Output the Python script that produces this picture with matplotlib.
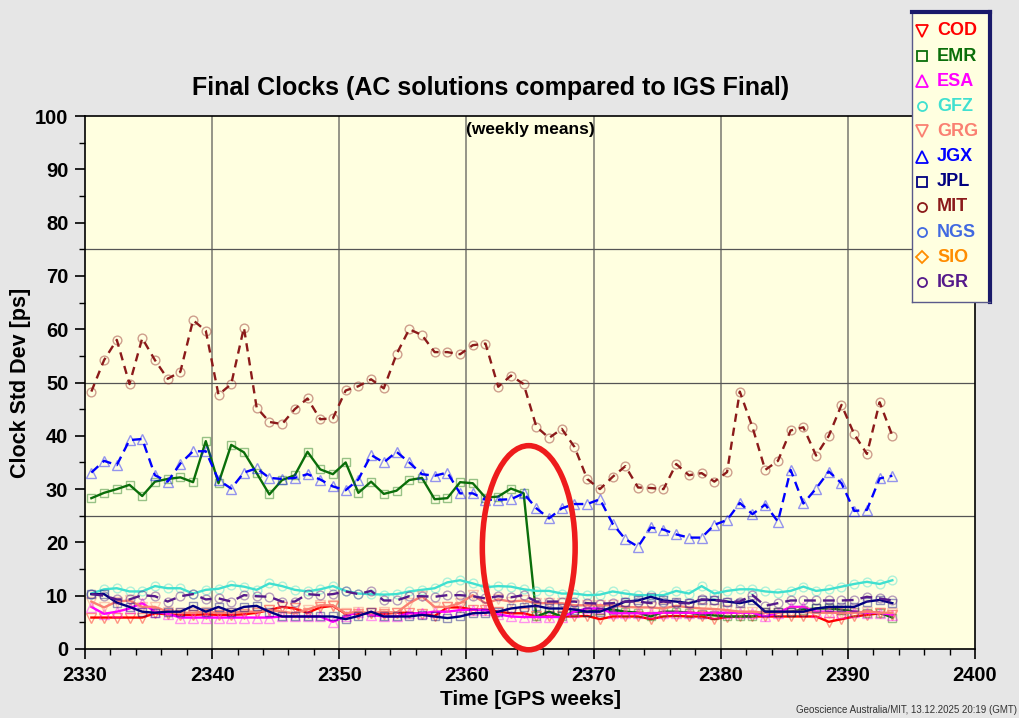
import numpy as np
import matplotlib
matplotlib.use("Agg")
import matplotlib.pyplot as plt
from matplotlib.patches import Ellipse

plt.rcParams["font.family"] = ["Liberation Sans", "DejaVu Sans"]
plt.rcParams["font.weight"] = "bold"

# GPS weeks; each weekly mean sits in the middle of its week
weeks = np.arange(2330, 2394)

cod = [5.9, 5.9, 5.9, 5.9, 5.9, 6.7, 6.5, 6.4, 6.4, 6.5, 6.4, 6.4, 6.5, 6.8, 7.3, 7.9,
       7.6, 6.8, 7.8, 8.1, 6.6, 6.6, 6.8, 6.6, 6.8, 6.8, 6.6, 6.2, 7.8, 7.8, 7.4, 7.4,
       7.0, 6.7, 6.7, 6.1, 6.1, 6.1, 6.1, 6.2, 5.6, 6.1, 6.1, 6.1, 5.6, 6.1, 6.2, 6.1,
       6.1, 5.6, 6.0, 6.1, 6.1, 6.1, 6.1, 6.1, 6.1, 6.1, 5.1, 5.6, 6.1, 6.4, 6.7, 6.3]
emr = [28.3, 29.3, 30.0, 30.8, 28.7, 31.4, 31.9, 32.2, 31.3, 39.0, 31.1, 38.3, 36.9, 33.0,
       29.0, 31.7, 32.6, 37.0, 33.7, 32.8, 35.0, 29.3, 31.4, 29.1, 29.7, 31.7, 32.1, 28.1,
       28.3, 31.3, 31.1, 28.4, 28.6, 30.1, 29.2, 6.1, 7.0, 6.1, 7.0, 7.0, 7.4, 7.4, 7.0,
       6.8, 6.1, 7.0, 7.0, 6.8, 6.5, 6.3, 6.1, 6.1, 6.1, 7.0, 7.0, 7.0, 7.4, 7.6, 7.6,
       7.4, 7.0, 6.8, 6.8, 5.9]
esa = [7.9, 6.6, 7.0, 7.6, 8.6, 7.0, 6.6, 5.9, 5.9, 5.9, 5.9, 5.9, 5.9, 5.9, 5.9, 6.1,
       6.1, 6.1, 6.1, 5.1, 6.1, 7.0, 6.4, 6.1, 6.1, 6.7, 6.7, 7.0, 7.0, 7.3, 7.4, 7.3,
       6.5, 6.1, 6.0, 6.0, 6.0, 6.0, 7.0, 7.6, 7.6, 6.7, 6.7, 6.7, 6.7, 6.8, 6.8, 6.8,
       6.7, 6.8, 6.8, 6.8, 6.8, 6.1, 6.8, 7.9, 7.9, 7.0, 7.0, 6.8, 7.0, 6.8, 6.8, 6.4]
gfz = [10.4, 11.2, 11.4, 10.8, 10.8, 11.8, 11.4, 11.4, 10.4, 11.1, 11.3, 12.0, 11.7, 11.1,
       12.3, 11.8, 11.1, 10.8, 11.2, 11.8, 10.9, 10.4, 10.3, 10.2, 10.3, 10.8, 11.1, 11.4,
       12.5, 12.9, 12.3, 11.6, 11.8, 11.7, 11.2, 10.9, 10.9, 10.4, 10.4, 10.1, 10.2, 10.8,
       10.4, 10.1, 10.1, 10.1, 10.9, 10.4, 11.8, 10.4, 10.9, 11.2, 11.2, 10.8, 10.6, 10.9,
       11.7, 10.9, 11.2, 11.7, 12.2, 12.6, 12.2, 12.9]
grg = [8.9, 7.8, 8.9, 9.1, 7.9, 7.9, 7.0, 6.8, 6.8, 7.0, 6.8, 6.8, 7.0, 7.0, 7.3, 7.0,
       6.7, 7.4, 8.2, 8.2, 6.7, 7.0, 6.7, 7.0, 6.8, 8.6, 9.9, 7.9, 7.9, 8.6, 10.1, 8.6,
       9.3, 8.9, 9.1, 8.6, 8.6, 8.6, 8.2, 8.2, 8.2, 8.2, 7.9, 7.8, 7.8, 7.6, 8.1, 7.8,
       7.6, 7.5, 7.3, 7.0, 7.0, 6.8, 6.8, 7.0, 7.0, 6.8, 6.8, 6.8, 6.8, 7.0, 6.8, 6.8]
jgx = [33.1, 35.3, 34.5, 39.2, 39.4, 32.6, 31.4, 34.8, 37.1, 37.1, 31.7, 30.1, 33.1, 33.9,
       32.1, 31.9, 32.1, 32.8, 31.8, 30.5, 29.8, 31.8, 36.4, 35.0, 37.0, 35.0, 32.8, 32.5,
       33.1, 29.2, 29.2, 28.0, 28.0, 28.1, 29.2, 26.4, 24.5, 26.4, 27.2, 27.2, 28.1, 23.5,
       20.6, 19.2, 22.8, 22.4, 21.5, 20.9, 20.9, 23.3, 24.2, 27.4, 25.3, 27.1, 23.9, 33.6,
       27.3, 30.1, 33.3, 31.1, 25.9, 26.1, 32.0, 32.5]
jpl = [10.3, 10.3, 8.7, 7.9, 7.0, 6.8, 7.0, 7.0, 8.1, 7.0, 7.9, 7.0, 7.9, 8.1, 7.0, 6.1,
       6.1, 6.1, 6.1, 6.1, 5.6, 6.2, 7.0, 6.1, 6.1, 6.1, 6.4, 6.1, 5.8, 6.1, 6.7, 6.8,
       7.0, 7.6, 7.9, 8.1, 7.6, 7.6, 7.4, 7.0, 7.0, 7.9, 8.9, 9.1, 9.8, 9.1, 8.9, 8.6,
       9.2, 9.2, 8.9, 8.6, 9.1, 7.0, 7.0, 7.0, 7.0, 7.6, 7.9, 7.9, 7.9, 8.9, 9.2, 8.6]
mit = [48.3, 54.2, 58.0, 49.7, 58.3, 54.2, 50.7, 52.0, 61.7, 59.7, 47.7, 49.7, 60.3, 45.3,
       42.6, 42.2, 45.0, 47.0, 43.1, 43.3, 48.5, 49.3, 50.6, 48.9, 55.3, 60.0, 58.9, 55.7,
       55.7, 55.3, 57.0, 57.3, 49.2, 51.3, 49.7, 41.7, 39.6, 41.3, 37.9, 31.9, 30.0, 32.3,
       34.3, 30.3, 30.2, 30.0, 34.7, 32.6, 33.0, 31.4, 33.2, 48.3, 41.6, 33.6, 35.3, 41.0,
       41.6, 36.3, 40.0, 45.8, 40.3, 36.6, 46.3, 40.0]
ngs = []
sio = []
igr = [10.3, 10.0, 9.3, 9.3, 10.1, 9.9, 8.9, 9.9, 10.3, 9.3, 9.5, 8.9, 10.1, 9.9, 9.8, 8.9,
       8.9, 10.3, 10.1, 10.3, 10.8, 10.3, 10.9, 9.1, 9.1, 9.9, 9.9, 9.8, 10.1, 10.1, 9.9, 9.5,
       9.9, 9.7, 10.1, 8.9, 8.9, 8.9, 8.9, 8.6, 8.5, 8.6, 8.9, 8.9, 8.6, 8.9, 8.6, 8.6,
       9.3, 9.2, 8.9, 8.9, 10.1, 8.1, 8.6, 9.1, 9.1, 9.1, 9.1, 9.1, 9.2, 9.8, 9.5, 9.1]

centers = ["COD", "EMR", "ESA", "GFZ", "GRG", "JGX", "JPL", "MIT", "NGS", "SIO", "IGR"]
values = [cod, emr, esa, gfz, grg, jgx, jpl, mit, ngs, sio, igr]
colors = ["#ff0000", "#0a6e0a", "#ff00ff", "#40e0d0", "#fa8072", "#0000ff",
          "#000080", "#8b1a1a", "#4169e1", "#ff8c00", "#551a8b"]
markers = ["v", "s", "^", "o", "v", "^", "s", "o", "o", "D", "o"]
styles = {"JGX": (0, (4, 2.5)), "MIT": (0, (3.5, 2.5)), "IGR": (0, (5, 3))}
msize = {"s": 5.6, "o": 6.3, "v": 7.0, "^": 7.0, "D": 5.5}

PAPER = "#ffffe0"

fig = plt.figure(figsize=(10.19, 7.18), dpi=100, facecolor="#e6e6e6")
ax = fig.add_axes([85 / 1019, 69 / 718, 890 / 1019, 533 / 718], facecolor=PAPER)

for name, vals, col, mk in zip(centers, values, colors, markers):
    if len(vals) == 0:
        continue
    edge = matplotlib.colors.to_rgba(col, 0.42)
    ax.plot(weeks[:len(vals)] + 0.5, vals, color=col, lw=1.7,
            ls=styles.get(name, "-"), marker=mk, ms=msize[mk], mfc="none",
            mec=edge, mew=1.0)

ax.set_xlim(2330, 2400)
ax.set_ylim(0, 100)
ax.set_xticks(np.arange(2330, 2401, 10))
ax.set_xticks(np.arange(2330, 2401, 2), minor=True)
ax.set_yticks(np.arange(0, 101, 10))
ax.set_yticks(np.arange(0, 101, 5), minor=True)
ax.tick_params(which="major", length=7, width=1.2, labelsize=14.5, pad=5)
ax.tick_params(which="minor", length=4, width=1)
for lab in ax.get_xticklabels() + ax.get_yticklabels():
    lab.set_fontweight("bold")

for x in range(2340, 2400, 10):
    ax.axvline(x, color="#8c8c80", lw=1.3, zorder=0.5)
for y in (25, 50, 75):
    ax.axhline(y, color="#555555", lw=0.9, zorder=0.5)
for sp in ax.spines.values():
    sp.set_linewidth(1.2)

ax.set_xlabel("Time [GPS weeks]", fontsize=15, fontweight="bold", labelpad=4)
ax.set_ylabel("Clock Std Dev [ps]", fontsize=15.5, fontweight="bold", labelpad=3)
ax.text(0.5, 0.975, "(weekly means)", transform=ax.transAxes, ha="center",
        va="center", fontsize=12.5, fontweight="bold")

# highlight around the EMR drop
ax.add_patch(Ellipse((2364.9, 19.0), 7.3, 38.3, fill=False, ec="#ee1c1c",
                     lw=4, zorder=5, clip_on=False))

fig.text(491 / 1019, 1 - 88 / 718, "Final Clocks (AC solutions compared to IGS Final)",
         ha="center", va="center", fontsize=18, fontweight="bold")
fig.text(1017 / 1019, 1 - 710 / 718, "Geoscience Australia/MIT, 13.12.2025 20:19 (GMT)",
         ha="right", va="center", fontsize=7, fontweight="normal", color="#333333")

# legend panel
leg = fig.add_axes([912 / 1019, 1 - 302 / 718, 78 / 1019, 290 / 718], facecolor=PAPER)
leg.set_xlim(0, 1)
leg.set_ylim(len(centers) - 1 + 0.78, -0.75)
leg.set_xticks([])
leg.set_yticks([])
for side in ("left", "bottom"):
    leg.spines[side].set_color("#5a5a8a")
    leg.spines[side].set_linewidth(1)
for side in ("top", "right"):
    leg.spines[side].set_color("#1a1a6a")
    leg.spines[side].set_linewidth(3)
for i, (name, col, mk) in enumerate(zip(centers, colors, markers)):
    leg.plot([0.13], [i], marker=mk, ms=8 if mk in "v^" else 6.5, mfc="none",
             mec=col, mew=1.3, ls="none")
    leg.text(0.32, i, name, color=col, fontsize=13, fontweight="bold",
             ha="left", va="center")

fig.savefig("out.png", dpi=100, facecolor=fig.get_facecolor())
